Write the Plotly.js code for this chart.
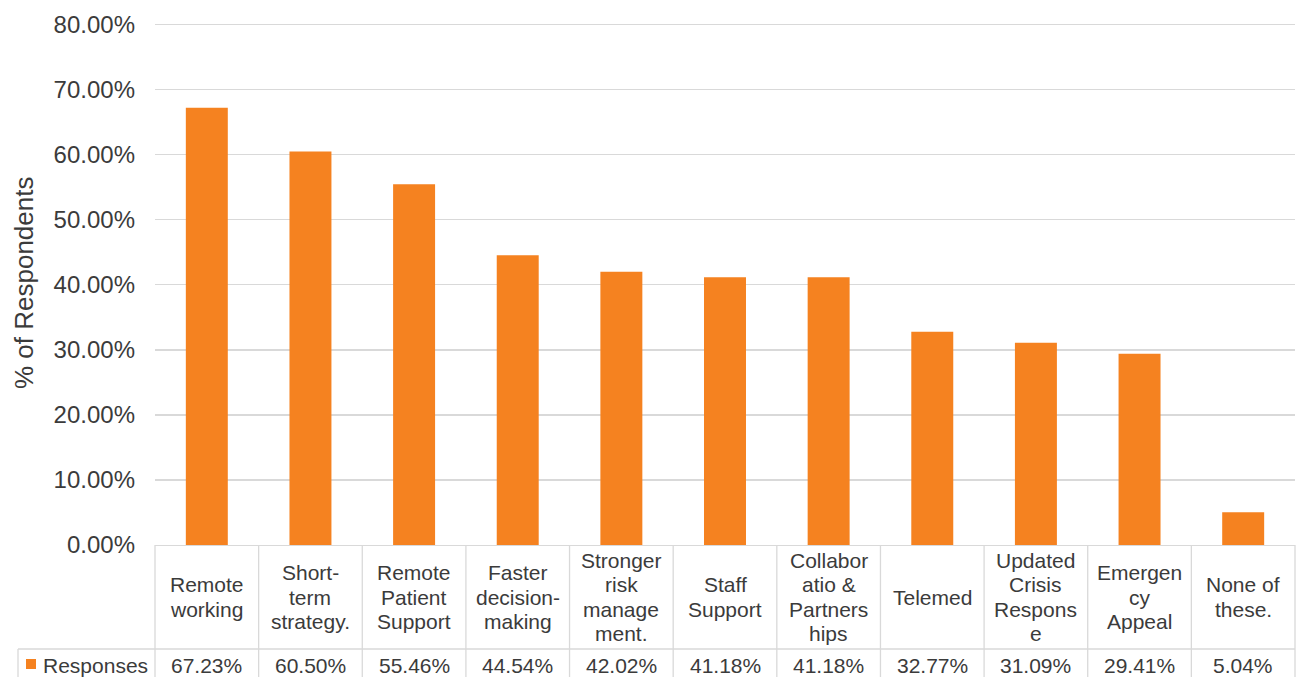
<!DOCTYPE html>
<html>
<head>
<meta charset="utf-8">
<script src="https://cdn.plot.ly/plotly-3.0.1.min.js"></script>
<style>html,body{margin:0;padding:0;background:#fff;}#chart{width:1300px;height:677px;}</style>
</head>
<body>
<div id="chart"></div>
<script>
// ---- data ----
const categories = ["Remote working", "Short-term strategy.", "Remote Patient Support", "Faster decision-making",
  "Stronger risk management.", "Staff Support", "Collaboratio & Partnerships", "Telemed",
  "Updated Crisis Response", "Emergency Appeal", "None of these."];
const categoryLines = [
  ["Remote", "working"],
  ["Short-", "term", "strategy."],
  ["Remote", "Patient", "Support"],
  ["Faster", "decision-", "making"],
  ["Stronger", "risk", "manage", "ment."],
  ["Staff", "Support"],
  ["Collabor", "atio &", "Partners", "hips"],
  ["Telemed"],
  ["Updated", "Crisis", "Respons", "e"],
  ["Emergen", "cy", "Appeal"],
  ["None of", "these."]
];
const seriesName = "Responses";
const responses = [67.23, 60.50, 55.46, 44.54, 42.02, 41.18, 41.18, 32.77, 31.09, 29.41, 5.04];
const yTickValues = [0, 10, 20, 30, 40, 50, 60, 70, 80];
const yAxisTitle = "% of Respondents";

// ---- style ----
const FONT = "Liberation Sans, Arial, Helvetica, sans-serif";
const TEXT = "#3b3b3b";
const GRID = "#d9d9d9";
const ORANGE = "#F58220";
const W = 1300, H = 677;
const Y_MAX = 80.4;
const M = {l: 155, r: 5, t: 22, b: 132};
const plotH = H - M.t - M.b;
const plotW = W - M.l - M.r;
const py = px => -(px - (H - M.b)) / plotH;        // pixel y -> paper y
const pxX = px => (px - M.l) / plotW;              // pixel x -> paper x

const N = categories.length;
const idx = categories.map((_, i) => i);

const headerBottom = 649, tableLeft = 18;
const headerCenter = py((H - M.b + headerBottom) / 2);
const valueCenter = py(665.5);
const lineStep = 24.5;

const annotations = [];
const shapes = [];

categoryLines.forEach((lines, i) => {
  const n = lines.length;
  lines.forEach((t, k) => {
    annotations.push({
      xref: 'x', yref: 'paper', x: i, y: headerCenter,
      yshift: -(k - (n - 1) / 2) * lineStep,
      text: t, showarrow: false, xanchor: 'center', yanchor: 'middle',
      font: {family: FONT, size: 21, color: TEXT}
    });
  });
  annotations.push({
    xref: 'x', yref: 'paper', x: i, y: valueCenter,
    text: responses[i].toFixed(2) + '%', showarrow: false, xanchor: 'center', yanchor: 'middle',
    font: {family: FONT, size: 21, color: TEXT}
  });
});

annotations.push({
  xref: 'paper', yref: 'paper', x: pxX(41), y: valueCenter, xanchor: 'left', yanchor: 'middle',
  text: seriesName, showarrow: false, font: {family: FONT, size: 21, color: TEXT}
});
annotations.push({
  xref: 'paper', yref: 'paper', x: pxX(24), y: py(283), xanchor: 'center', yanchor: 'middle',
  text: yAxisTitle, textangle: -90, showarrow: false, font: {family: FONT, size: 26, color: TEXT}
});

// table grid lines
for (let i = 0; i <= N; i++) {
  shapes.push({type: 'line', xref: 'paper', yref: 'paper', x0: i / N, x1: i / N, y0: 0, y1: py(H + 5),
    line: {color: GRID, width: 1.3}});
}
shapes.push({type: 'line', xref: 'paper', yref: 'paper', x0: pxX(tableLeft), x1: 1, y0: py(headerBottom), y1: py(headerBottom),
  line: {color: GRID, width: 1.3}});
shapes.push({type: 'line', xref: 'paper', yref: 'paper', x0: pxX(tableLeft), x1: pxX(tableLeft), y0: py(headerBottom), y1: py(H + 5),
  line: {color: GRID, width: 1.3}});
// legend key
shapes.push({type: 'rect', xref: 'paper', yref: 'paper', x0: pxX(26), x1: pxX(36), y0: py(669), y1: py(659),
  fillcolor: ORANGE, line: {width: 0}});

const trace = {
  type: 'bar', x: idx, y: responses, name: seriesName,
  marker: {color: ORANGE, line: {width: 0}},
  hoverinfo: 'y'
};

const layout = {
  width: W, height: H,
  margin: M,
  paper_bgcolor: '#fff', plot_bgcolor: '#fff',
  font: {family: FONT, color: TEXT},
  showlegend: false,
  bargap: 0.595,
  xaxis: {
    range: [-0.5, N - 0.5], showticklabels: false, ticks: '', showgrid: false, zeroline: false,
    showline: true, linecolor: GRID, linewidth: 1.3, fixedrange: true
  },
  yaxis: {
    range: [0, Y_MAX], tickvals: yTickValues, ticktext: yTickValues.map(v => v.toFixed(2) + '%'),
    showgrid: true, gridcolor: GRID, gridwidth: 1.3, zeroline: false, showline: false, ticks: '',
    tickfont: {family: FONT, size: 24, color: TEXT}, ticklabelstandoff: 19, fixedrange: true
  },
  annotations: annotations,
  shapes: shapes
};

Plotly.newPlot('chart', [trace], layout, {displayModeBar: false, staticPlot: true});
</script>
</body>
</html>
